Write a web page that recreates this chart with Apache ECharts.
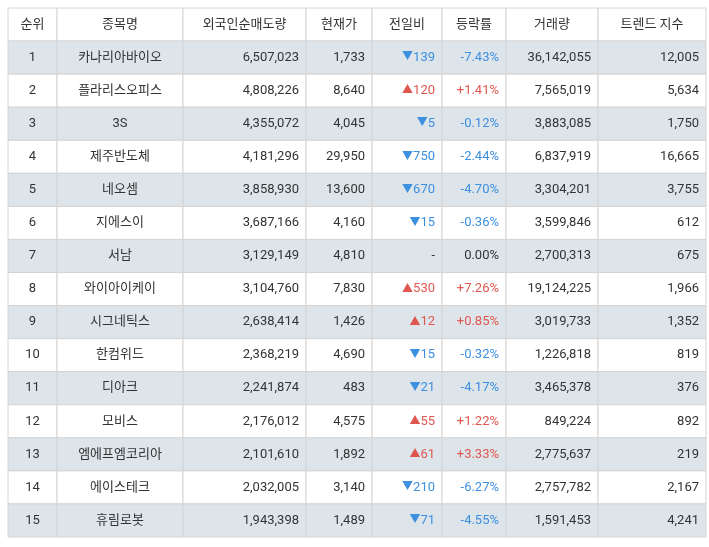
<!DOCTYPE html>
<html><head><meta charset="utf-8">
<script src="https://cdn.jsdelivr.net/npm/echarts@6/dist/echarts.min.js"></script>
<style>html,body{margin:0;background:#fff}#c{width:709px;height:547px}</style>
</head><body><div id="c"></div>
<script>
var headers = ['순위', '종목명', '외국인순매도량', '현재가', '전일비', '등락률', '거래량', '트렌드 지수'];
var ranks = [1,2,3,4,5,6,7,8,9,10,11,12,13,14,15];
var names = ['카나리아바이오','플라리스오피스','3S','제주반도체','네오셈','지에스이','서남','와이아이케이','시그네틱스','한컴위드','디아크','모비스','엠에프엠코리아','에이스테크','휴림로봇'];
var foreignSell = ['6,507,023','4,808,226','4,355,072','4,181,296','3,858,930','3,687,166','3,129,149','3,104,760','2,638,414','2,368,219','2,241,874','2,176,012','2,101,610','2,032,005','1,943,398'];
var prices = ['1,733','8,640','4,045','29,950','13,600','4,160','4,810','7,830','1,426','4,690','483','4,575','1,892','3,140','1,489'];
var changes = [-139,120,-5,-750,-670,-15,0,530,12,-15,-21,55,61,-210,-71];
var rates = ['-7.43%','+1.41%','-0.12%','-2.44%','-4.70%','-0.36%','0.00%','+7.26%','+0.85%','-0.32%','-4.17%','+1.22%','+3.33%','-6.27%','-4.55%'];
var volumes = ['36,142,055','7,565,019','3,883,085','6,837,919','3,304,201','3,599,846','2,700,313','19,124,225','3,019,733','1,226,818','3,465,378','849,224','2,775,637','2,757,782','1,591,453'];
var trend = ['12,005','5,634','1,750','16,665','3,755','612','675','1,966','1,352','819','376','892','219','2,167','4,241'];

// column edges in table units (px from table left)
var edges = [0, 49, 175, 298, 364, 434, 498, 590, 698];
var aligns = ['center','center','right','right','right','right','right','right'];
var UP = '#e0574f', DOWN = '#3d8fe0', TXT = '#333';
var FONT = '"Roboto", "Noto Sans CJK KR", sans-serif';

var cells = [];
for (var c = 0; c < headers.length; c++) cells.push([c, 0, headers[c], TXT]);
ranks.forEach(function (r, i) {
    var ch = changes[i];
    var col = ch > 0 ? UP : (ch < 0 ? DOWN : TXT);
    var chTxt = ch > 0 ? '{t|▲}' + ch : (ch < 0 ? '{t|▼}' + (-ch) : '-');
    var row = [String(r), names[i], foreignSell[i], prices[i], chTxt, rates[i], volumes[i], trend[i]];
    for (var c = 0; c < row.length; c++) {
        var color = (c == 4 || c == 5) ? col : TXT;
        if (c == 4 && ch == 0) color = TXT;
        cells.push([c, i + 1, row[c], color]);
    }
});

var chart = echarts.init(document.getElementById('c'));
chart.setOption({
    animation: false,
    grid: {left: 8, right: 3, top: 8, bottom: 10},
    xAxis: {type: 'value', min: 0, max: 698, show: false},
    yAxis: {type: 'value', min: 0, max: 16, inverse: true, show: false},
    series: [{
        type: 'custom',
        coordinateSystem: 'cartesian2d',
        data: cells,
        renderItem: function (params, api) {
            var c = api.value(0), r = api.value(1);
            var d = cells[params.dataIndex];
            var p0 = api.coord([edges[c], r]);
            var p1 = api.coord([edges[c + 1], r + 1]);
            var w = p1[0] - p0[0], h = p1[1] - p0[1];
            var bg = (r > 0 && r % 2 == 1) ? '#dde5ea' : '#fff';
            var al = r == 0 ? 'center' : aligns[c];
            var tx = al == 'center' ? p0[0] + w / 2 : p1[0] - 7;
            return {
                type: 'group',
                children: [
                    {type: 'rect', shape: {x: p0[0], y: p0[1], width: w, height: h},
                        style: {fill: bg, stroke: '#d4d4d4', lineWidth: 1}},
                    {type: 'text', style: {x: tx, y: p0[1] + h / 2, text: d[2], fill: d[3],
                        align: al, verticalAlign: 'middle',
                        fontSize: 13, fontFamily: FONT,
                        rich: {t: {fontSize: 11, fill: d[3], fontFamily: FONT}}}}
                ]
            };
        }
    }]
});
</script></body></html>
